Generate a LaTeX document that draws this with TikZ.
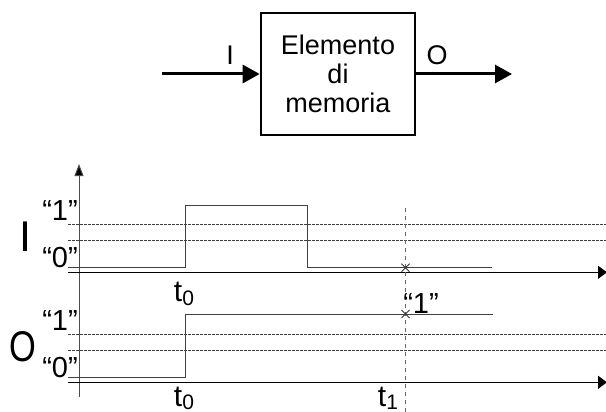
\documentclass[tikz,border=0pt]{standalone}
\usepackage{fontspec}
\setmainfont{Liberation Sans}
\usetikzlibrary{arrows.meta}
\begin{document}
\begin{tikzpicture}[x=1pt,y=-1pt,
  sig/.style={line width=1pt, draw=black!75},
  lvl/.style={line width=0.6pt, draw=black!75, dash pattern=on 3pt off 1pt},
  haxis/.style={line width=1.3pt, draw=black, -{Triangle[length=9pt,width=13pt]}},
  bigl/.style={font=\fontsize{43}{43}\selectfont, inner sep=0pt, anchor=base},
  qlab/.style={font=\fontsize{29}{29}\selectfont, inner sep=0pt, anchor=base},
  tlab/.style={font=\fontsize{30}{30}\selectfont, inner sep=0pt, anchor=base},
  crossmk/.style={line width=0.8pt, draw=black!80},
  bigarrow/.style={line width=3pt, -{Triangle[length=17pt,width=18pt]}}
]
\useasboundingbox (0,0) rectangle (606,412);

% ---- block ----
\node[draw, line width=2.6pt, minimum width=154pt, minimum height=122pt, inner sep=0pt,
      align=center, font=\fontsize{27}{29}\selectfont] (mem) at (338,74) {Elemento\\di\\memoria};
\coordinate (in) at (162,74);
\coordinate (out) at (512,74);
\draw[bigarrow] (in) -- (mem.west);
\draw[bigarrow] (mem.east) -- (out);
\node[font=\fontsize{27}{27}\selectfont, inner sep=0pt] (lI) at (230,55) {I};
\node[font=\fontsize{27}{27}\selectfont, inner sep=0pt] (lO) at (437,55) {O};

% ---- axes ----
\coordinate (vbot) at (79,397);
\coordinate (vtop) at (79,164);
\draw[line width=1pt, draw=black!70, -{Triangle[length=12pt,width=9pt,fill=black]}] (vbot) -- (vtop);
\coordinate (ha0) at (68,272.3);  \coordinate (ha1) at (607,272.3);
\coordinate (hb0) at (68,382.3);  \coordinate (hb1) at (607,382.3);
\draw[haxis] (ha0) -- (ha1);
\draw[haxis] (hb0) -- (hb1);

% ---- level lines ----
\foreach \yy in {224.3,240.3,334.3,350.3}{
  \draw[lvl] (68,\yy) -- (606,\yy);
}

% ---- signals ----
\coordinate (i0) at (68,267.7);
\coordinate (i1) at (185.7,267.7);
\coordinate (i2) at (185.7,205);
\coordinate (i3) at (307.3,205);
\coordinate (i4) at (307.3,267.7);
\coordinate (i5) at (491.7,267.7);
\draw[sig] (i0) -- (i1) -- (i2) -- (i3) -- (i4) -- (i5);

\coordinate (o0) at (68,377.7);
\coordinate (o1) at (185.7,377.7);
\coordinate (o2) at (185.7,314);
\coordinate (o3) at (493,314);
\draw[sig] (o0) -- (o1) -- (o2) -- (o3);

% ---- t1 marker ----
\coordinate (d0) at (405.3,208);
\coordinate (d1) at (405.3,414);
\draw[line width=1pt, draw=black!60, dash pattern=on 4pt off 4pt] (d0) -- (d1);
\coordinate (xa) at (405.5,267.7);
\coordinate (xb) at (405.5,314);
\draw[crossmk] ([shift={(-4,-4)}]xa) -- ([shift={(4,4)}]xa) ([shift={(-4,4)}]xa) -- ([shift={(4,-4)}]xa);
\draw[crossmk] ([shift={(-4,-4)}]xb) -- ([shift={(4,4)}]xb) ([shift={(-4,4)}]xb) -- ([shift={(4,-4)}]xb);

% ---- labels ----
\node[bigl] (bI) at (25,251) {I};
\node[bigl] (bO) at (23,361) {\scalebox{0.8}[1]{O}};
\node[qlab] (q1a) at (60,220) {“1”};
\node[qlab] (q0a) at (60,267.5) {“0”};
\node[qlab] (q1b) at (60,330) {“1”};
\node[qlab] (q0b) at (60,377.5) {“0”};
\node[qlab] (q1c) at (421,313) {“1”};
\node[tlab] (t0a) at (184,301) {t\raisebox{-4pt}{\fontsize{21}{21}\selectfont 0}};
\node[tlab] (t0b) at (184,406) {t\raisebox{-3pt}{\fontsize{21}{21}\selectfont 0}};
\node[tlab] (t1) at (388,406) {t\raisebox{-3pt}{\fontsize{21}{21}\selectfont 1}};
\end{tikzpicture}
\end{document}
